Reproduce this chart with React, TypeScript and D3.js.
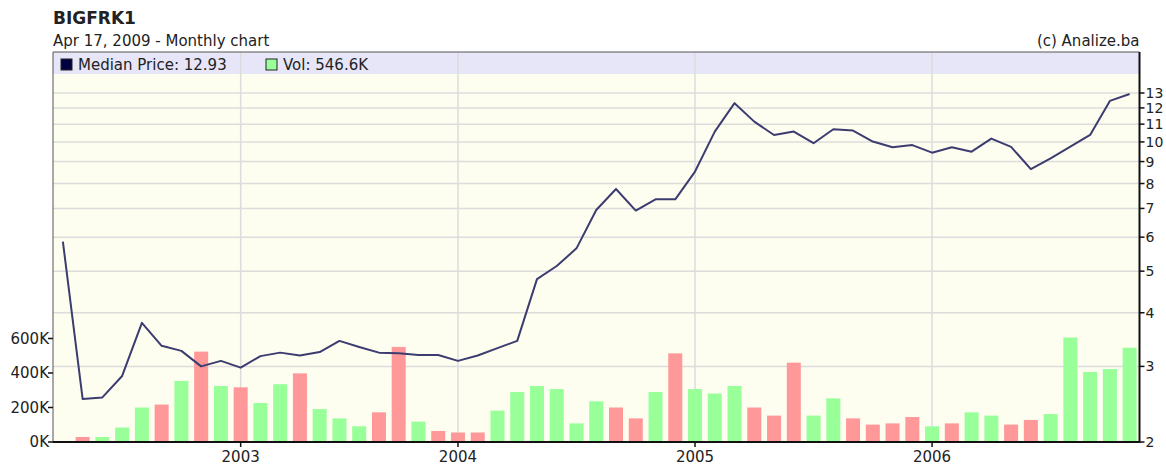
import { useEffect, useRef } from 'react';
import { line, scaleLinear, scaleLog, scalePoint, select } from 'd3';

// monthly periods (one month of 2003 is missing in the source)
const months = [
  '2002-04', '2002-05', '2002-06', '2002-07', '2002-08', '2002-09', '2002-10', '2002-11', '2002-12',
  '2003-01', '2003-02', '2003-03', '2003-04', '2003-05', '2003-06', '2003-07', '2003-09', '2003-10', '2003-11', '2003-12',
  '2004-01', '2004-02', '2004-03', '2004-04', '2004-05', '2004-06', '2004-07', '2004-08', '2004-09', '2004-10', '2004-11', '2004-12',
  '2005-01', '2005-02', '2005-03', '2005-04', '2005-05', '2005-06', '2005-07', '2005-08', '2005-09', '2005-10', '2005-11', '2005-12',
  '2006-01', '2006-02', '2006-03', '2006-04', '2006-05', '2006-06', '2006-07', '2006-08', '2006-09', '2006-10', '2006-11',
];

const medianPrice = [
  5.86, 2.52, 2.54, 2.85, 3.79, 3.35, 3.26, 3.0, 3.09,
  2.98, 3.17, 3.23, 3.18, 3.24, 3.44, 3.33, 3.23, 3.22, 3.19, 3.19,
  3.09, 3.18, 3.31, 3.44, 4.79, 5.14, 5.65, 6.94, 7.77, 6.92, 7.35, 7.35,
  8.53, 10.57, 12.31, 11.15, 10.38, 10.57, 9.93, 10.7, 10.63, 10.02, 9.72, 9.83,
  9.44, 9.72, 9.49, 10.18, 9.74, 8.64, 9.16, 9.75, 10.38, 12.46, 12.93,
];

const volume = [
  0, 29000, 29000, 84000, 200000, 217000, 354000, 524000, 325000,
  317000, 226000, 335000, 398000, 191000, 137000, 91000, 172000, 551000, 118000, 64000,
  55000, 55000, 182000, 290000, 325000, 307000, 108000, 236000, 200000, 137000, 290000, 514000,
  307000, 281000, 325000, 200000, 153000, 460000, 153000, 253000, 137000, 101000, 108000, 145000,
  91000, 108000, 172000, 153000, 101000, 128000, 162000, 606000, 406000, 423000, 546600,
];

// month direction shown by the volume bar colour
const moves = [
  'up', 'down', 'up', 'up', 'up', 'down', 'up', 'down', 'up',
  'down', 'up', 'up', 'down', 'up', 'up', 'up', 'down', 'down', 'up', 'down',
  'down', 'down', 'up', 'up', 'up', 'up', 'up', 'up', 'down', 'down', 'up', 'down',
  'up', 'up', 'up', 'down', 'down', 'down', 'up', 'up', 'down', 'down', 'down', 'down',
  'up', 'down', 'up', 'up', 'down', 'down', 'up', 'up', 'up', 'up', 'up',
];

const priceTicks = [2, 3, 4, 5, 6, 7, 8, 9, 10, 11, 12, 13];
const volumeTicks = [0, 200000, 400000, 600000];

const width = 1166;
const height = 466;
const left = 53;
const right = 1139.5;
const top = 52;
const bottom = 442;
const legendH = 22;
const font = "'DejaVu Sans', Verdana, sans-serif";

const App = () => {
  const svgRef = useRef<SVGSVGElement>(null);

  useEffect(() => {
    const svg = select(svgRef.current);
    svg.selectAll('*').remove();

    const x = scalePoint<string>().domain(months).range([left, right]).padding(0.5);
    const yPrice = scaleLog().domain([2, 13]).range([bottom, 93]);
    const yVol = scaleLinear().domain([0, 600000]).range([bottom, 338.5]);
    const barW = x.step() * 0.71;

    const yearStarts = months.filter(
      (m, i) => i > 0 && m.slice(0, 4) !== months[i - 1].slice(0, 4),
    );

    svg.append('rect').attr('width', width).attr('height', height).attr('fill', '#ffffff');

    // plot background + legend band
    svg
      .append('rect')
      .attr('x', left)
      .attr('y', top)
      .attr('width', right - left)
      .attr('height', bottom - top)
      .attr('fill', '#fefef0');
    svg
      .append('rect')
      .attr('x', left)
      .attr('y', top)
      .attr('width', right - left)
      .attr('height', legendH)
      .attr('fill', '#e6e6f8');

    // grid
    svg
      .append('g')
      .selectAll('line')
      .data(priceTicks.slice(1))
      .join('line')
      .attr('x1', left)
      .attr('x2', right)
      .attr('y1', (d) => yPrice(d))
      .attr('y2', (d) => yPrice(d))
      .attr('stroke', '#dcdcdc')
      .attr('stroke-width', 1.5);
    svg
      .append('g')
      .selectAll('line')
      .data(yearStarts)
      .join('line')
      .attr('x1', (d) => x(d)!)
      .attr('x2', (d) => x(d)!)
      .attr('y1', top)
      .attr('y2', bottom)
      .attr('stroke', '#dcdcdc')
      .attr('stroke-width', 1.5);

    // volume bars
    svg
      .append('g')
      .selectAll('rect')
      .data(months)
      .join('rect')
      .attr('x', (d) => x(d)! - barW / 2)
      .attr('y', (d, i) => yVol(volume[i]))
      .attr('width', barW)
      .attr('height', (d, i) => bottom - yVol(volume[i]))
      .attr('fill', (d, i) => (moves[i] === 'up' ? '#99ff99' : '#ff9999'));

    // median price line
    const priceLine = line<number>()
      .x((d, i) => x(months[i])!)
      .y((d) => yPrice(d));
    svg
      .append('path')
      .attr('d', priceLine(medianPrice))
      .attr('fill', 'none')
      .attr('stroke', '#3c3c70')
      .attr('stroke-width', 2)
      .attr('stroke-linejoin', 'round');

    // frame
    svg
      .append('path')
      .attr('d', `M${left},${bottom}V${top}H${right}`)
      .attr('fill', 'none')
      .attr('stroke', '#555555')
      .attr('stroke-width', 1);
    svg
      .append('path')
      .attr('d', `M${left},${bottom}H${right}V${top}`)
      .attr('fill', 'none')
      .attr('stroke', '#111111')
      .attr('stroke-width', 2);

    // right axis (price, log)
    const rAxis = svg.append('g').attr('font-family', font).attr('font-size', 14).attr('fill', '#222');
    rAxis
      .selectAll('line')
      .data(priceTicks)
      .join('line')
      .attr('x1', right)
      .attr('x2', right + 5)
      .attr('y1', (d) => yPrice(d))
      .attr('y2', (d) => yPrice(d))
      .attr('stroke', '#111')
      .attr('stroke-width', 1.5);
    rAxis
      .selectAll('text')
      .data(priceTicks)
      .join('text')
      .attr('x', right + 6)
      .attr('y', (d) => yPrice(d))
      .attr('dy', '0.36em')
      .text((d) => d);

    // left axis (volume)
    const lAxis = svg.append('g').attr('font-family', font).attr('font-size', 15).attr('fill', '#222');
    lAxis
      .selectAll('line')
      .data(volumeTicks)
      .join('line')
      .attr('x1', left - 5)
      .attr('x2', left)
      .attr('y1', (d) => yVol(d))
      .attr('y2', (d) => yVol(d))
      .attr('stroke', '#111')
      .attr('stroke-width', 1.5);
    lAxis
      .selectAll('text')
      .data(volumeTicks)
      .join('text')
      .attr('x', left - 4)
      .attr('y', (d) => yVol(d))
      .attr('dy', '0.36em')
      .attr('text-anchor', 'end')
      .text((d) => `${d / 1000}K`);

    // bottom axis (years)
    const bAxis = svg.append('g').attr('font-family', font).attr('font-size', 15).attr('fill', '#222');
    bAxis
      .selectAll('line')
      .data(yearStarts)
      .join('line')
      .attr('x1', (d) => x(d)!)
      .attr('x2', (d) => x(d)!)
      .attr('y1', bottom)
      .attr('y2', bottom + 5)
      .attr('stroke', '#111')
      .attr('stroke-width', 1.5);
    bAxis
      .selectAll('text')
      .data(yearStarts)
      .join('text')
      .attr('x', (d) => x(d)!)
      .attr('y', bottom + 20)
      .attr('text-anchor', 'middle')
      .text((d) => d.slice(0, 4));

    // titles
    svg
      .append('text')
      .attr('x', left)
      .attr('y', 24)
      .attr('font-family', font)
      .attr('font-size', 17)
      .attr('font-weight', 'bold')
      .attr('fill', '#222')
      .text('BIGFRK1');
    svg
      .append('text')
      .attr('x', left)
      .attr('y', 46)
      .attr('font-family', font)
      .attr('font-size', 15)
      .attr('fill', '#222')
      .text('Apr 17, 2009 - Monthly chart');
    svg
      .append('text')
      .attr('x', right)
      .attr('y', 46)
      .attr('text-anchor', 'end')
      .attr('font-family', font)
      .attr('font-size', 15)
      .attr('fill', '#222')
      .text('(c) Analize.ba');

    // legend
    const last = months.length - 1;
    const legend = [
      { label: `Median Price: ${medianPrice[last].toFixed(2)}`, color: '#000040', x: 61 },
      { label: `Vol: ${(volume[last] / 1000).toFixed(1)}K`, color: '#99ff99', x: 266 },
    ];
    const lg = svg
      .append('g')
      .selectAll('g')
      .data(legend)
      .join('g')
      .attr('transform', (d) => `translate(${d.x},${top + 7})`);
    lg.append('rect')
      .attr('width', 11)
      .attr('height', 11)
      .attr('fill', (d) => d.color)
      .attr('stroke', '#222')
      .attr('stroke-width', 1);
    lg.append('text')
      .attr('x', 17)
      .attr('y', 5.5)
      .attr('dy', '0.36em')
      .attr('font-family', font)
      .attr('font-size', 15)
      .attr('fill', '#222')
      .text((d) => d.label);
  }, []);

  return (
    <svg
      ref={svgRef}
      width={width}
      height={height}
      style={{ position: 'absolute', left: 0, top: 0 }}
    />
  );
};

export default App;
